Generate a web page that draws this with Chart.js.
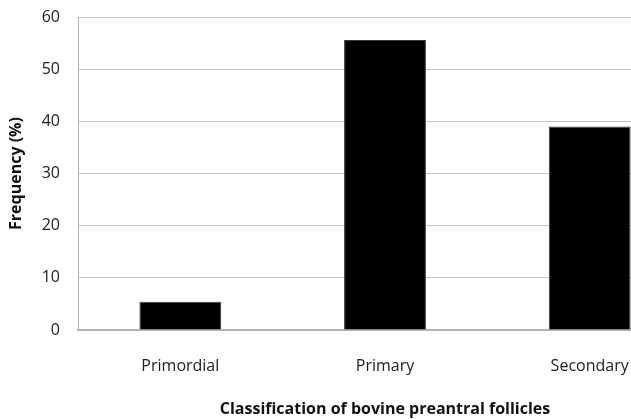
<!DOCTYPE html>
<html>
<head>
<meta charset="utf-8">
<script src="https://cdn.jsdelivr.net/npm/chart.js@4.4.0/dist/chart.umd.min.js"></script>
<style>
    html, body { margin: 0; padding: 0; background: #fff; overflow: hidden; }
    #wrap { width: 700px; height: 419px; }
</style>
</head>
<body>
<div id="wrap"><canvas id="chart" width="700" height="419"></canvas></div>
<script>
// Podaci s grafa
const categories = ['Primordial', 'Primary', 'Secondary'];
const frequency = [5.4, 55.6, 39.0];
const yTicks = [0, 10, 20, 30, 40, 50, 60];

const FONT = '"Open Sans", "Noto Sans", sans-serif';

new Chart(document.getElementById('chart'), {
    type: 'bar',
    data: {
        labels: categories,
        datasets: [{
            label: 'Frequency (%)',
            data: frequency,
            backgroundColor: '#000000',
            borderColor: '#3a3a3a',
            borderWidth: 1,
            barPercentage: 0.4,
            categoryPercentage: 1.0
        }]
    },
    options: {
        responsive: false,
        animation: false,
        layout: { padding: { top: 17, right: 8, bottom: 0, left: 0 } },
        plugins: {
            legend: { display: false },
            tooltip: { enabled: false }
        },
        scales: {
            x: {
                grid: { display: false, drawTicks: false },
                border: { color: '#b4b4b4', width: 2 },
                ticks: {
                    color: '#222',
                    padding: 27,
                    font: { family: FONT, size: 16 }
                },
                title: {
                    display: true,
                    text: 'Classification of bovine preantral follicles',
                    color: '#111',
                    padding: { top: 0, bottom: 0 },
                    font: { family: FONT, size: 16, weight: 'bold' }
                },
                afterFit: (axis) => { axis.height = 89; axis.paddingLeft = 0; axis.paddingRight = 0; }
            },
            y: {
                min: 0,
                max: 60,
                afterBuildTicks: (axis) => { axis.ticks = yTicks.map(v => ({ value: v })); },
                grid: { color: '#c4c4c4', lineWidth: 1, drawTicks: false },
                border: { color: '#b4b4b4', width: 1 },
                ticks: {
                    color: '#222',
                    padding: 18,
                    font: { family: FONT, size: 16 }
                },
                title: {
                    display: true,
                    text: 'Frequency (%)',
                    color: '#111',
                    padding: { top: 7, bottom: 0 },
                    font: { family: FONT, size: 16, weight: 'bold' }
                },
                afterFit: (axis) => { axis.width = 78; axis.paddingTop = 0; axis.paddingBottom = 0; }
            }
        }
    }
});
</script>
</body>
</html>
